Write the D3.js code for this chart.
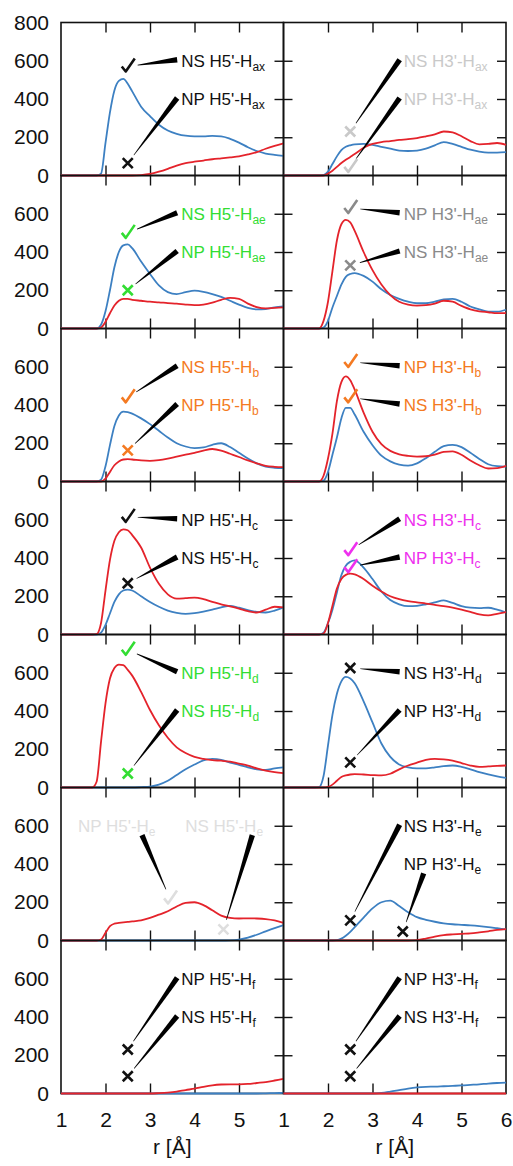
<!DOCTYPE html>
<html>
<head>
<meta charset="utf-8">
<script src="https://cdnjs.cloudflare.com/ajax/libs/d3/7.8.5/d3.min.js"></script>
<style>
  body { margin: 0; background: #fff; }
  svg text { font-family: "Liberation Sans", Arial, sans-serif; }
</style>
</head>
<body>
<svg id="chart" width="513" height="1166"></svg>
<script>
// shared r grid (Å) for every curve
var rGrid = [1, 1.7, 1.8, 1.9, 2.0, 2.1, 2.2, 2.3, 2.4, 2.5, 2.6, 2.8, 3.0, 3.2, 3.4, 3.6, 3.8, 4.0, 4.2, 4.4, 4.6, 4.8, 5.0, 5.2, 5.4, 5.6, 5.8, 6.0];

// NS (blue) and NP (red) series, one pair per panel
var nsH5ax = [0,0,0,10,170,330,445,495,505,480, 440,360,310,265,235,218,208,205,205,207, 205,192,172,148,128,115,108,103];
var npH5ax = [0,0,0,0,0,0,0,0,0,0, 0,2,8,20,35,52,65,72,78,85, 90,95,100,110,122,140,155,168];
var nsH3ax = [0,0,0,2,20,60,100,133,150,158, 163,165,160,150,140,130,128,130,140,158, 175,165,150,135,125,120,120,122];
var npH3ax = [0,0,0,0,10,25,45,65,82,97, 112,145,165,175,180,186,190,196,205,215, 230,225,205,180,163,165,170,160];

var nsH5ae = [0,0,0,20,90,200,320,400,435,440, 420,350,285,225,190,180,190,198,192,180, 165,145,125,108,100,102,110,115];
var npH5ae = [0,0,0,5,35,80,120,145,155,155, 150,145,140,137,133,130,125,122,125,135, 150,160,155,130,112,105,108,110];
var nsH3ae = [0,0,0,5,40,110,170,230,270,285, 290,275,245,205,175,155,140,132,132,140, 152,155,140,115,100,88,88,98];
var npH3ae = [0,0,0,40,140,300,460,545,568,555, 510,400,305,230,175,140,125,120,122,130, 145,140,118,100,90,85,80,80];

var nsH5b = [0,0,0,10,80,190,290,345,365,363, 355,330,300,265,230,200,183,175,178,192, 200,180,150,120,95,78,72,70];
var npH5b = [0,0,0,0,15,50,85,105,115,117, 115,110,108,112,120,130,140,150,162,170, 162,145,128,110,95,82,77,75];
var nsH3b = [0,0,0,5,50,140,230,330,385,385, 350,260,190,135,105,88,83,95,122,155, 185,192,180,150,118,90,80,78];
var npH3b = [0,0,0,30,120,250,420,520,550,530, 480,360,260,195,160,142,134,130,132,140, 155,158,140,110,85,68,70,82];

var nsH5c = [0,0,0,10,50,110,170,210,230,235, 230,200,170,145,125,113,108,112,120,130, 142,150,140,128,118,115,125,142];
var npH5c = [0,0,2,60,230,390,490,535,550,545, 520,455,350,265,210,188,190,193,185,170, 158,147,135,122,115,130,145,142];
var nsH3c = [0,0,0,10,60,130,220,310,360,380, 388,350,290,225,180,158,148,150,158,168, 178,165,148,140,138,140,130,115];
var npH3c = [0,0,0,5,60,150,240,290,312,318, 315,290,255,225,200,185,175,168,162,155, 148,140,130,118,105,100,108,117];

var nsH5d = [0,0,0,0,0,0,0,0,0,0, 0,2,5,15,35,65,95,120,142,150, 145,130,118,105,95,92,100,105];
var npH5d = [0,0,30,240,440,570,625,643,640,615, 585,500,405,325,260,210,180,160,150,143, 140,135,125,115,100,88,80,75];
var nsH3d = [0,0,2,60,220,380,490,555,578,570, 545,450,340,230,160,120,105,100,100,105, 112,115,108,95,80,68,58,50];
var npH3d = [0,0,0,0,3,15,35,55,63,68, 70,68,65,63,72,95,115,130,145,150, 147,140,128,115,108,110,113,115];

var nsH5e = [0,0,0,0,0,0,0,0,0,0, 0,0,0,0,0,0,0,0,0,0, 0,1,5,15,30,48,65,80];
var npH5e = [0,0,0,5,40,75,88,92,95,97, 100,105,118,135,153,178,197,200,185,158, 130,118,115,116,115,112,105,92];
var nsH3e = [0,0,0,0,0,0,2,10,25,45, 70,120,168,200,208,180,148,122,108,98, 90,85,82,79,75,70,64,58];
var npH3e = [0,0,0,0,0,0,0,0,0,0, 0,0,0,0,0,0,0,2,10,20, 28,32,35,37,42,48,55,60];

var nsH5f = [0,0,0,0,0,0,0,0,0,0, 0,0,0,0,0,0,0,0,0,0, 0,0,0,0,0,1,2,3];
var npH5f = [0,0,0,0,0,0,0,0,0,0, 0,0,0,2,5,10,18,25,35,43, 47,48,48,50,55,60,68,77];
var nsH3f = [0,0,0,0,0,0,0,0,0,0, 0,0,0,3,10,18,26,32,35,36, 38,40,42,45,48,52,55,57];
var npH3f = [0,0,0,0,0,0,0,0,0,0, 0,0,0,0,0,0,0,0,0,0, 0,0,0,0,0,0,0,0];

var yTicks = [0, 200, 400, 600, 800];
var xTicks = [1, 2, 3, 4, 5, 6];

var panels = [
  {row: 0, col: 0, ns: nsH5ax, np: npH5ax}, {row: 0, col: 1, ns: nsH3ax, np: npH3ax},
  {row: 1, col: 0, ns: nsH5ae, np: npH5ae}, {row: 1, col: 1, ns: nsH3ae, np: npH3ae},
  {row: 2, col: 0, ns: nsH5b, np: npH5b},   {row: 2, col: 1, ns: nsH3b, np: npH3b},
  {row: 3, col: 0, ns: nsH5c, np: npH5c},   {row: 3, col: 1, ns: nsH3c, np: npH3c},
  {row: 4, col: 0, ns: nsH5d, np: npH5d},   {row: 4, col: 1, ns: nsH3d, np: npH3d},
  {row: 5, col: 0, ns: nsH5e, np: npH5e},   {row: 5, col: 1, ns: nsH3e, np: npH3e},
  {row: 6, col: 0, ns: nsH5f, np: npH5f},   {row: 6, col: 1, ns: nsH3f, np: npH3f}
];

// annotation: label text + subscript, marker (check / cross) at (mx,my), label at (lx,ly)
// optional wx,wy = where the wedge leaves the label
var black = "#111", green = "#33dd33", orange = "#f47a22", grey = "#8a8a8a",
    pale = "#c9c9c9", paler = "#dedede", magenta = "#ee30ee";
var notes = [
  {row: 0, col: 0, text: "NS H5'-H", sub: "ax", color: black, mark: "check", mx: 2.5, my: 570, lx: 3.7, ly: 600},
  {row: 0, col: 0, text: "NP H5'-H", sub: "ax", color: black, mark: "cross", mx: 2.5, my: 65, lx: 3.7, ly: 400},
  {row: 0, col: 1, text: "NS H3'-H", sub: "ax", color: pale, mark: "cross", mx: 2.5, my: 230, lx: 3.7, ly: 600},
  {row: 0, col: 1, text: "NP H3'-H", sub: "ax", color: pale, mark: "check", mx: 2.5, my: 45, lx: 3.7, ly: 400},
  {row: 1, col: 0, text: "NS H5'-H", sub: "ae", color: green, mark: "check", mx: 2.5, my: 500, lx: 3.7, ly: 600},
  {row: 1, col: 0, text: "NP H5'-H", sub: "ae", color: green, mark: "cross", mx: 2.5, my: 200, lx: 3.7, ly: 400},
  {row: 1, col: 1, text: "NP H3'-H", sub: "ae", color: grey, mark: "check", mx: 2.5, my: 630, lx: 3.7, ly: 600},
  {row: 1, col: 1, text: "NS H3'-H", sub: "ae", color: grey, mark: "cross", mx: 2.5, my: 330, lx: 3.7, ly: 400},
  {row: 2, col: 0, text: "NS H5'-H", sub: "b", color: orange, mark: "check", mx: 2.5, my: 440, lx: 3.7, ly: 600},
  {row: 2, col: 0, text: "NP H5'-H", sub: "b", color: orange, mark: "cross", mx: 2.5, my: 163, lx: 3.7, ly: 400},
  {row: 2, col: 1, text: "NP H3'-H", sub: "b", color: orange, mark: "check", mx: 2.5, my: 625, lx: 3.7, ly: 600},
  {row: 2, col: 1, text: "NS H3'-H", sub: "b", color: orange, mark: "check", mx: 2.5, my: 440, lx: 3.7, ly: 400},
  {row: 3, col: 0, text: "NP H5'-H", sub: "c", color: black, mark: "check", mx: 2.5, my: 615, lx: 3.7, ly: 600},
  {row: 3, col: 0, text: "NS H5'-H", sub: "c", color: black, mark: "cross", mx: 2.5, my: 268, lx: 3.7, ly: 400},
  {row: 3, col: 1, text: "NS H3'-H", sub: "c", color: magenta, mark: "check", mx: 2.5, my: 441, lx: 3.7, ly: 600},
  {row: 3, col: 1, text: "NP H3'-H", sub: "c", color: magenta, mark: "check", mx: 2.5, my: 352, lx: 3.7, ly: 400},
  {row: 4, col: 0, text: "NP H5'-H", sub: "d", color: green, mark: "check", mx: 2.5, my: 720, lx: 3.7, ly: 600},
  {row: 4, col: 0, text: "NS H5'-H", sub: "d", color: green, mark: "cross", mx: 2.5, my: 73, lx: 3.7, ly: 400},
  {row: 4, col: 1, text: "NS H3'-H", sub: "d", color: black, mark: "cross", mx: 2.5, my: 625, lx: 3.7, ly: 600},
  {row: 4, col: 1, text: "NP H3'-H", sub: "d", color: black, mark: "cross", mx: 2.5, my: 131, lx: 3.7, ly: 400},
  {row: 5, col: 0, text: "NP H5'-H", sub: "e", color: paler, mark: "check", mx: 3.45, my: 220, lx: 1.38, ly: 600, wx: 2.82, wy: 551},
  {row: 5, col: 0, text: "NS H5'-H", sub: "e", color: paler, mark: "cross", mx: 4.65, my: 58, lx: 3.79, ly: 600, wx: 5.3, wy: 551},
  {row: 5, col: 1, text: "NS H3'-H", sub: "e", color: black, mark: "cross", mx: 2.5, my: 105, lx: 3.7, ly: 600},
  {row: 5, col: 1, text: "NP H3'-H", sub: "e", color: black, mark: "cross", mx: 3.68, my: 47, lx: 3.7, ly: 400, wx: 4.15, wy: 351},
  {row: 6, col: 0, text: "NP H5'-H", sub: "f", color: black, mark: "cross", mx: 2.5, my: 230, lx: 3.7, ly: 600},
  {row: 6, col: 0, text: "NS H5'-H", sub: "f", color: black, mark: "cross", mx: 2.5, my: 90, lx: 3.7, ly: 400},
  {row: 6, col: 1, text: "NP H3'-H", sub: "f", color: black, mark: "cross", mx: 2.5, my: 230, lx: 3.7, ly: 600},
  {row: 6, col: 1, text: "NS H3'-H", sub: "f", color: black, mark: "cross", mx: 2.5, my: 90, lx: 3.7, ly: 400}
];

var svg = d3.select("#chart");
var marginLeft = 61, marginTop = 22.5, pw = 222.5, ph = 153;
var nRows = 7;

var x = d3.scaleLinear().domain([1, 6]).range([0, pw]);
var y = d3.scaleLinear().domain([0, 800]).range([ph, 0]);

var line = d3.line()
    .x(function(d) { return x(d[0]); })
    .y(function(d) { return y(d[1]); })
    .curve(d3.curveMonotoneX);

function panelG(row, col) {
  return "translate(" + (marginLeft + col * pw) + "," + (marginTop + row * ph) + ")";
}

function cleanAxis(g) {
  g.select(".domain").remove();
  g.selectAll(".tick line").attr("stroke", "#111").attr("stroke-width", 1.4);
}

function labelAxis(g) {
  g.select(".domain").remove();
  g.selectAll("text").attr("font-size", 21).attr("fill", "#111")
    .style("font-family", "'Liberation Sans', Arial, sans-serif");
}

// tapered black wedge from label (x0,y0) to marker (x1,y1)
function wedge(x0, y0, x1, y1, w0, w1) {
  var dx = x1 - x0, dy = y1 - y0, len = Math.sqrt(dx * dx + dy * dy);
  var nx = -dy / len, ny = dx / len;
  return [[x0 + nx * w0, y0 + ny * w0], [x1 + nx * w1, y1 + ny * w1],
          [x1 - nx * w1, y1 - ny * w1], [x0 - nx * w0, y0 - ny * w0]];
}

panels.forEach(function(p) {
  var g = svg.append("g").attr("transform", panelG(p.row, p.col));
  var inner = [2, 3, 4, 5], innerY = [200, 400, 600];

  // inward ticks
  g.append("g").call(d3.axisTop(x).tickValues(inner).tickSize(-10).tickFormat("")).call(cleanAxis);
  g.append("g").attr("transform", "translate(0," + ph + ")")
    .call(d3.axisBottom(x).tickValues(inner).tickSize(-10).tickFormat("")).call(cleanAxis);
  g.append("g").attr("transform", "translate(" + pw + ",0)")
    .call(d3.axisRight(y).tickValues(innerY).tickSize(-9).tickFormat("")).call(cleanAxis);
  if (p.col == 1) {
    g.append("g").call(d3.axisLeft(y).tickValues(innerY).tickSize(-9).tickFormat("")).call(cleanAxis);
  }

  // y labels on left column
  if (p.col == 0) {
    g.append("g")
      .call(d3.axisLeft(y).tickValues(p.row == 0 ? yTicks : yTicks.slice(0, 4))
        .tickSize(0).tickPadding(12).tickFormat(d3.format("d")))
      .call(labelAxis);
  }

  // x labels on bottom row
  if (p.row == nRows - 1) {
    g.append("g").attr("transform", "translate(0," + ph + ")")
      .call(d3.axisBottom(x).tickValues(p.col == 0 ? xTicks.slice(0, 5) : xTicks)
        .tickSize(0).tickPadding(19).tickFormat(d3.format("d")))
      .call(labelAxis);
    g.append("text")
      .attr("x", pw / 2)
      .attr("y", ph + 60)
      .attr("text-anchor", "middle")
      .attr("font-size", 21)
      .attr("fill", "#111")
      .text("r [Å]");
  }

  g.append("rect")
    .attr("width", pw)
    .attr("height", ph)
    .attr("fill", "none")
    .attr("stroke", "#111")
    .attr("stroke-width", 1.6);

  g.append("path")
    .datum(rGrid.map(function(r, i) { return [r, p.ns[i]]; }))
    .attr("d", line)
    .attr("fill", "none")
    .attr("stroke", "#3d80c2")
    .attr("stroke-width", 1.8);

  g.append("path")
    .datum(rGrid.map(function(r, i) { return [r, p.np[i]]; }))
    .attr("d", line)
    .attr("fill", "none")
    .attr("stroke", "#e4232b")
    .attr("stroke-width", 1.8);
});

notes.forEach(function(n) {
  var g = svg.append("g").attr("transform", panelG(n.row, n.col));
  var mx = x(n.mx), my = y(n.my);
  var sx = n.wx != null ? x(n.wx) : x(n.lx) - 4;
  var sy = n.wy != null ? y(n.wy) : y(n.ly) - 1;
  var dx = mx - sx, dy = my - sy, len = Math.sqrt(dx * dx + dy * dy);
  var gap = 10;
  var ex = mx - dx / len * gap, ey = my - dy / len * gap;

  g.append("polygon")
    .attr("points", wedge(sx, sy, ex, ey, 2.7, 0.3).map(function(pt) { return pt.join(","); }).join(" "))
    .attr("fill", "#000");

  var t = g.append("text")
    .attr("x", x(n.lx))
    .attr("y", y(n.ly) + 6)
    .attr("font-size", 17)
    .attr("fill", n.color);
  t.append("tspan").text(n.text);
  t.append("tspan").attr("dy", 4).attr("font-size", 12).text(n.sub);

  var mark = n.mark == "check" ? "M-6,0 L-2,5 L7,-8" : "M-5,-5 L5,5 M-5,5 L5,-5";
  g.append("path")
    .attr("transform", "translate(" + mx + "," + my + ")")
    .attr("d", mark)
    .attr("fill", "none")
    .attr("stroke", n.color)
    .attr("stroke-width", 2.6)
    .attr("stroke-linejoin", "round");
});
</script>
</body>
</html>
